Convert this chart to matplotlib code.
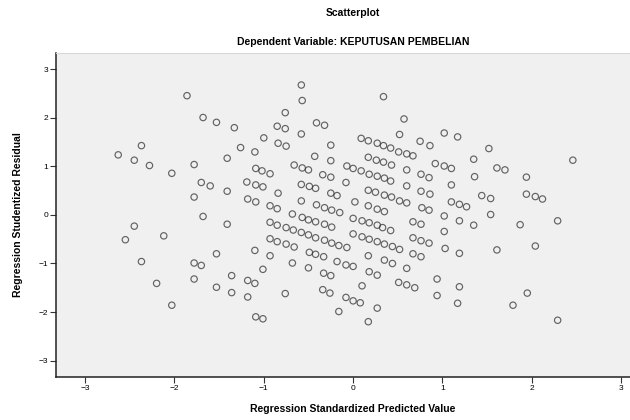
import matplotlib
matplotlib.use('Agg')
import matplotlib.pyplot as plt

plt.rcParams['font.family'] = ['Liberation Sans', 'DejaVu Sans']

# standardized predicted value / studentized residual
pred = [
    -1.86, -1.68, -1.53, -2.37, -2.63, -2.45, -2.28, -2.03, -1.78, -1.70, -1.60, -1.78,
    -0.58, -0.57, 0.34,
    -1.68, -2.45, -2.55, -2.12, -2.37, -1.53, -1.78, -1.70, -1.78, -2.20, -2.03, -1.53,
    -0.76, -1.33, -0.85, -0.76, -0.41, -0.32, -0.58, -1.00, -1.26, -1.10, -0.84, -0.75,
    -0.25, -0.43, -0.25, -1.41, -1.09, -1.02, -0.93, -0.66, -0.57, -0.50, -0.34, -0.25,
    -0.07, -0.08, -1.19, -1.09, -1.01, -0.84, -1.41, -0.58, -0.49, -0.42, -0.25, -0.18,
    -0.58, -1.18, -1.09, -0.93, -0.85, -0.68, -0.41, -0.32, -0.24, -0.15,
    0.57, 0.52, 1.02, 1.17, 0.75, 0.86, 0.09, 0.17, 0.27, 0.34, 0.42, 0.51, 0.60, 0.67,
    0.92, 1.02, 1.10, 1.35, 1.36, 0.17, 0.26, 0.34, 0.43, 0.60, 0.76, 0.85, 0.00, 0.09,
    0.18, 0.27, 0.35, 0.42, 0.60, 0.76, 0.86, 1.10, 1.10, 1.19, 1.27, 0.17, 0.25, 0.35,
    0.43, 0.52, 0.60, 0.02, 0.17, 0.27, 0.35, 0.77, 0.85,
    1.52, 1.61, 1.70, 1.94, 2.46, 1.44, 1.54, 1.94, 2.04, 2.12,
    -1.41, -0.93, -0.85, -0.75, -0.67, -0.58, -0.50, -0.42, -0.32, -0.24, -0.16, -0.07,
    -0.57, -0.50, -0.42, -0.32, -0.24, -0.93, -0.85, -0.75, -0.66, -1.10, -0.93, -0.49,
    -0.42, -0.33, -0.18, -0.08, -1.01, -0.68, -0.50, -0.33, -0.25, -1.36, -1.18, -1.10,
    -1.36, -1.18, -0.76, -0.34, -0.26, -0.08, -0.16, -1.09, -1.01,
    0.00, 0.10, 0.18, 0.27, 0.33, 0.42, 0.67, 0.76, 1.02, 1.19, 1.35, 1.02, 0.00, 0.10,
    0.18, 0.27, 0.35, 0.44, 0.52, 0.67, 0.76, 0.85, 1.03, 1.19, 0.17, 0.00, 0.35, 0.44,
    0.67, 0.76, 0.60, 0.18, 0.27, 0.10, 0.51, 0.60, 0.69, 0.94, 0.94, 1.19, 1.17, 0.00,
    0.08, 0.27, 0.17,
    1.54, 1.87, 2.29, 1.61, 2.04, 1.95, 1.79, 2.29,
]
resid = [
    2.46, 2.01, 1.91, 1.43, 1.24, 1.13, 1.02, 0.86, 1.04, 0.67, 0.60, 0.37,
    2.68, 2.36, 2.44,
    -0.03, -0.23, -0.51, -0.43, -0.96, -0.80, -0.99, -1.04, -1.32, -1.41, -1.86, -1.49,
    2.11, 1.80, 1.83, 1.78, 1.90, 1.85, 1.67, 1.59, 1.39, 1.30, 1.48, 1.42,
    1.44, 1.21, 1.12, 1.17, 0.96, 0.91, 0.85, 1.03, 0.97, 0.93, 0.83, 0.78,
    1.01, 0.67, 0.68, 0.62, 0.58, 0.45, 0.49, 0.63, 0.59, 0.55, 0.45, 0.40,
    0.29, 0.33, 0.27, 0.19, 0.13, 0.02, 0.21, 0.15, 0.10, 0.05,
    1.98, 1.66, 1.69, 1.61, 1.52, 1.43, 1.58, 1.53, 1.48, 1.43, 1.38, 1.30, 1.26, 1.22,
    1.06, 1.01, 0.96, 1.15, 0.79, 1.19, 1.13, 1.09, 1.03, 0.93, 0.84, 0.77, 0.96, 0.91,
    0.84, 0.80, 0.76, 0.70, 0.60, 0.49, 0.43, 0.62, 0.27, 0.22, 0.17, 0.51, 0.47, 0.41,
    0.37, 0.29, 0.25, 0.27, 0.19, 0.12, 0.07, 0.15, 0.10,
    1.37, 0.97, 0.93, 0.78, 1.13, 0.40, 0.34, 0.43, 0.38, 0.33,
    -0.19, -0.15, -0.21, -0.26, -0.31, -0.36, -0.41, -0.47, -0.52, -0.58, -0.63, -0.67,
    -0.05, -0.10, -0.14, -0.19, -0.25, -0.49, -0.55, -0.60, -0.66, -0.73, -0.84, -0.77,
    -0.81, -0.86, -0.96, -1.03, -1.12, -0.99, -1.09, -1.20, -1.25, -1.25, -1.35, -1.41,
    -1.60, -1.69, -1.62, -1.54, -1.61, -1.70, -1.99, -2.10, -2.14,
    -0.07, -0.12, -0.16, -0.21, -0.26, -0.32, -0.14, -0.19, -0.02, -0.12, -0.21, -0.34, -0.39, -0.45,
    -0.50, -0.55, -0.60, -0.65, -0.71, -0.47, -0.53, -0.58, -0.69, -0.79, -0.84, -1.06, -0.93, -1.00,
    -0.80, -0.86, -1.10, -1.17, -1.24, -1.46, -1.39, -1.44, -1.50, -1.32, -1.66, -1.48, -1.82, -1.77,
    -1.81, -1.92, -2.20,
    0.01, -0.20, -0.12, -0.72, -0.64, -1.61, -1.86, -2.17,
]
ticks = [-3, -2, -1, 0, 1, 2, 3]

fig = plt.figure(figsize=(6.3, 4.2), dpi=100)
ax = fig.add_axes([0.0884, 0.1024, 0.9116, 0.7714])
ax.set_facecolor('#f0f0f0')

ax.scatter(pred, resid, s=21, facecolors='none', edgecolors='#333333',
           linewidths=0.85, alpha=0.75)

ax.set_xlim(-3.33, 3.10)
ax.set_ylim(-3.34, 3.34)
ax.set_xticks(ticks)
ax.set_yticks(ticks)
ax.tick_params(labelsize=6, length=4, width=0.8, pad=1.5, color='#333333')

for s in ['left', 'bottom']:
    ax.spines[s].set_color('#222222')
    ax.spines[s].set_linewidth(1.1)
ax.spines['top'].set_color('#d8d8d8')
ax.spines['top'].set_linewidth(0.8)
ax.spines['right'].set_visible(False)

fig.text(0.560, 0.969, 'Scatterplot', ha='center', va='center',
         fontsize=7.5, fontweight='bold')
fig.text(0.560, 0.900, 'Dependent Variable: KEPUTUSAN PEMBELIAN', ha='center',
         va='center', fontsize=7.5, fontweight='bold')
fig.text(0.560, 0.026, 'Regression Standardized Predicted Value', ha='center',
         va='center', fontsize=7.5, fontweight='bold')
fig.text(0.029, 0.488, 'Regression Studentized Residual', ha='center',
         va='center', rotation=90, fontsize=7.5, fontweight='bold')

plt.savefig('out.png', dpi=100)
